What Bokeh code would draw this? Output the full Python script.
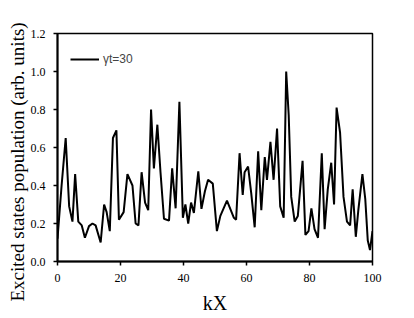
from bokeh.plotting import figure
from bokeh.models import Legend, LegendItem, FixedTicker, Range1d, Title, CustomJSTickFormatter
from bokeh.embed import file_html
from bokeh.resources import INLINE

kx = [0, 1.3, 2.6, 3.7, 4.75, 5.6, 6.6, 7.7, 8.7, 10, 11.1, 12.1, 13.7, 14.8, 15.6, 16.6,
      17.6, 18.7, 19.5, 21, 22.2, 23.8, 24.8, 25.7, 26.7, 27.8, 28.8, 29.7, 30.6, 31.7,
      32.7, 33.8, 35.4, 36.4, 37.5, 38.7, 39.8, 40.6, 41.5, 42.4, 43.3, 44.7, 45.7, 46.8,
      47.8, 49.3, 50.6, 51.7, 53.8, 56, 56.7, 57.8, 58.8, 59.4, 60.5, 61.5, 62.6, 63.7,
      64.7, 65.8, 66.5, 67.6, 68.6, 69.7, 70.7, 71.8, 72.6, 73.4, 74.2, 75.3, 76.3, 77.8,
      78.7, 79.7, 80.6, 81.6, 82.7, 83.9, 84.8, 85.8, 86.9, 87.8, 88.6, 89.7, 90.8, 91.9,
      92.9, 93.7, 94.7, 95.5, 96.8, 97.7, 98.5, 99.2, 100]
population = [0.12, 0.40, 0.65, 0.29, 0.21, 0.46, 0.21, 0.19, 0.125, 0.186, 0.20, 0.19, 0.10,
              0.30, 0.26, 0.16, 0.65, 0.69, 0.22, 0.26, 0.46, 0.40, 0.20, 0.19, 0.47, 0.31,
              0.27, 0.80, 0.49, 0.72, 0.47, 0.225, 0.215, 0.49, 0.28, 0.84, 0.23, 0.30, 0.20,
              0.31, 0.256, 0.475, 0.277, 0.37, 0.43, 0.41, 0.16, 0.24, 0.32, 0.23, 0.22, 0.57,
              0.35, 0.47, 0.50, 0.36, 0.18, 0.58, 0.27, 0.55, 0.43, 0.63, 0.43, 0.70, 0.29,
              0.23, 1.0, 0.77, 0.34, 0.21, 0.24, 0.53, 0.14, 0.16, 0.28, 0.17, 0.125, 0.57,
              0.17, 0.38, 0.52, 0.30, 0.81, 0.68, 0.34, 0.21, 0.19, 0.38, 0.13, 0.27, 0.46,
              0.33, 0.11, 0.06, 0.16]
x_ticks = [0, 20, 40, 60, 80, 100]
y_ticks = [0.0, 0.2, 0.4, 0.6, 0.8, 1.0, 1.2]
series_label = "γt=30"
x_title = "kX"
y_title = "Excited states population (arb. units)"

p = figure(width=398, height=316, output_backend="svg", toolbar_location=None,
           x_range=Range1d(0, 100), y_range=Range1d(0, 1.2),
           min_border_left=57, min_border_right=26, min_border_top=33, min_border_bottom=54)

r = p.line(kx, population, line_color="black", line_width=2)

p.grid.visible = False
p.outline_line_color = "black"
p.outline_line_width = 1.5
p.background_fill_color = "white"
p.border_fill_color = "white"

for ax in (p.xaxis[0], p.yaxis[0]):
    ax.axis_line_width = 2
    ax.axis_line_color = "black"
    ax.major_tick_line_color = "black"
    ax.major_tick_line_width = 1.5
    ax.major_tick_out = 4
    ax.major_tick_in = 0
    ax.minor_tick_line_color = None
    ax.major_label_text_font = "Liberation Serif"
    ax.major_label_text_font_size = "12px"
    ax.major_label_text_color = "black"
    ax.axis_label_text_font = "Liberation Serif"
    ax.axis_label_text_font_style = "normal"
    ax.axis_label_text_color = "black"

p.xaxis.ticker = FixedTicker(ticks=x_ticks)
p.yaxis.ticker = FixedTicker(ticks=y_ticks)
p.yaxis.formatter = CustomJSTickFormatter(code="return tick.toFixed(1);")
p.xaxis.major_label_standoff = 8
p.yaxis.major_label_standoff = 8

p.xaxis.axis_label = x_title
p.xaxis.axis_label_text_font_size = "20px"
p.xaxis.axis_label_standoff = 7

ytitle = Title(text=y_title, align="left", offset=-40, standoff=0,
               text_font="Liberation Serif", text_font_size="19px",
               text_font_style="normal", text_color="black")
p.add_layout(ytitle, "left")

legend = Legend(items=[LegendItem(label=series_label, renderers=[r])],
                location="top_left", margin=13, padding=6,
                glyph_width=29, glyph_height=26, label_height=26, label_standoff=4,
                label_text_font="Liberation Sans", label_text_font_size="12px",
                border_line_color=None, background_fill_alpha=0)
p.add_layout(legend)

open("out.html", "w").write(file_html(p, INLINE))
